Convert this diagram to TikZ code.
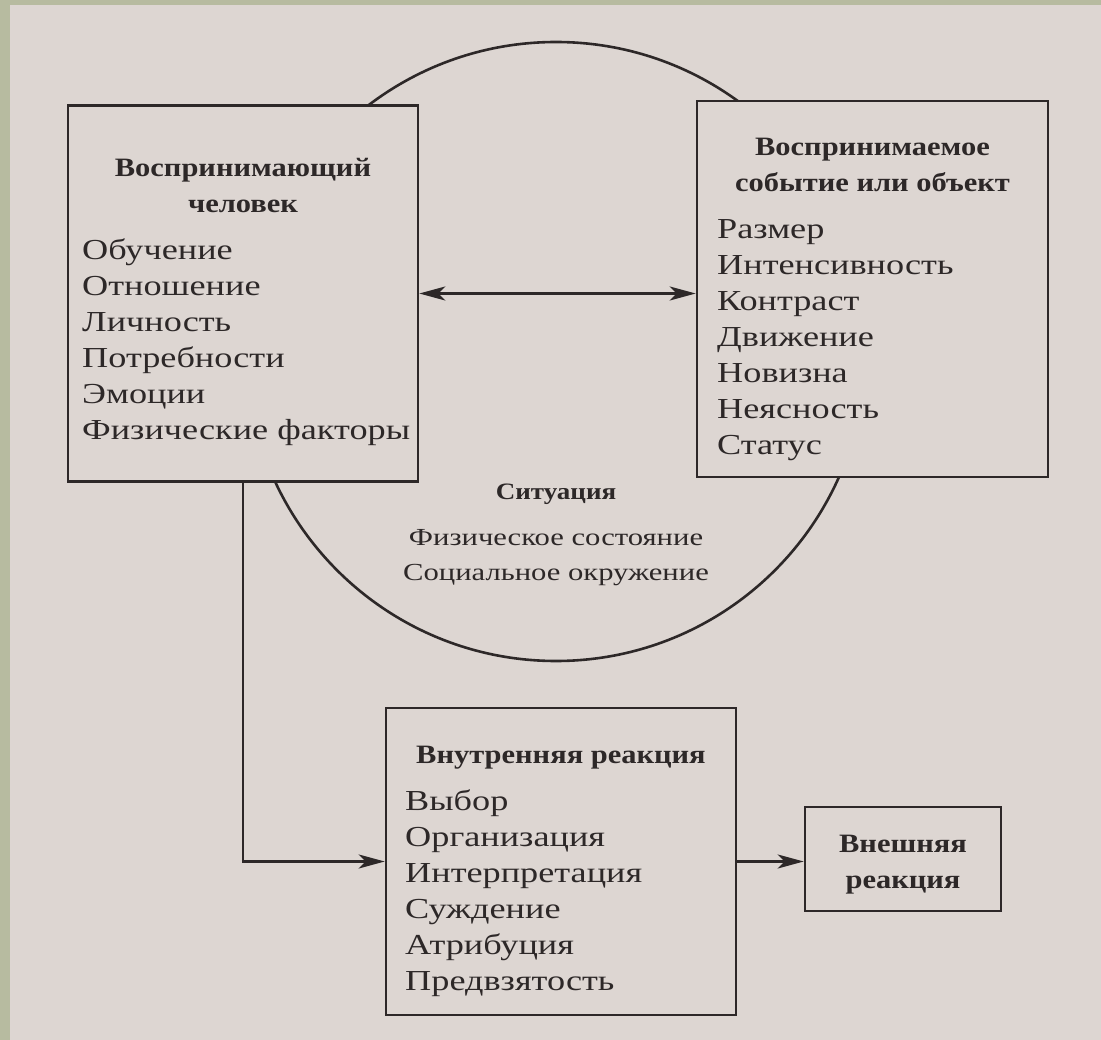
\documentclass[tikz,border=0pt]{standalone}
\usepackage{fontspec}
\setmainfont{Liberation Serif}[FakeStretch=1.15]
\newfontfamily\listfont{Liberation Serif}[FakeStretch=1.25]
\usepackage{xcolor}
\usetikzlibrary{arrows.meta,positioning,calc}

\definecolor{paper}{RGB}{221,214,210}
\definecolor{rim}{RGB}{183,187,160}
\definecolor{ink}{RGB}{45,40,40}

\begin{document}
\begin{tikzpicture}[
    x=1pt, y=-1pt,
    frame/.style={rectangle, draw=ink, fill=paper, line width=2.6pt, inner sep=0pt},
    head/.style={anchor=base, inner sep=0pt, text=ink, font=\fontsize{26.5}{36}\selectfont\bfseries},
    item/.style={anchor=base west, inner sep=0pt, text=ink, font=\listfont\fontsize{29}{36}\selectfont},
    dep/.style={-{Stealth[length=26pt, width=14pt, inset=7pt]}, draw=ink, line width=2.6pt},
    both/.style={{Stealth[length=26pt, width=14pt, inset=7pt]}-{Stealth[length=26pt, width=14pt, inset=7pt]}, draw=ink, line width=2.6pt}
]
    % Page
    \useasboundingbox (0,0) rectangle (1101,1040);
    \fill[rim] (0,0) rectangle (1101,1040);
    \fill[paper] (10,5) rectangle (1101,1040);

    % Situation circle (behind the boxes)
    \node[circle, draw=ink, line width=2.6pt, minimum size=619pt, inner sep=0pt] (situation) at (556,351.5) {};

    % Perceiver
    \node[frame, minimum width=350pt, minimum height=376pt] (person) at (243,293.5) {};
    \node[head] (personA) at (243,177) {Воспринимающий};
    \node[head] (personB) at (243,213) {человек};
    \node[item] (learn) at (82,260) {Обучение};
    \node[item] (attitude) at (82,296) {Отношение};
    \node[item] (persona) at (82,332) {Личность};
    \node[item] (needs) at (82,368) {Потребности};
    \node[item] (emotions) at (82,404) {Эмоции};
    \node[item] (physical) at (82,440) {Физические факторы};

    % Perceived event or object
    \node[frame, minimum width=351pt, minimum height=376pt] (object) at (872.5,289) {};
    \node[head] (objectA) at (872.5,156) {Воспринимаемое};
    \node[head] (objectB) at (872.5,192) {событие или объект};
    \node[item] (size) at (717,239) {Размер};
    \node[item] (intensity) at (717,275) {Интенсивность};
    \node[item] (contrast) at (717,311) {Контраст};
    \node[item] (motion) at (717,347) {Движение};
    \node[item] (novelty) at (717,383) {Новизна};
    \node[item] (vague) at (717,419) {Неясность};
    \node[item] (status) at (717,455) {Статус};

    % Situation
    \node[head, font=\fontsize{23.5}{36}\selectfont\bfseries] (sitA) at (556,500) {Ситуация};
    \node[item, anchor=base, font=\listfont\fontsize{24.5}{36}\selectfont] (sitB) at (556,545) {Физическое состояние};
    \node[item, anchor=base, font=\listfont\fontsize{24.5}{36}\selectfont] (sitC) at (556,580) {Социальное окружение};

    % Inner reaction
    \node[frame, minimum width=350pt, minimum height=307pt] (inner) at (561,861.5) {};
    \node[head] (innerA) at (561,763) {Внутренняя реакция};
    \node[item] (choice) at (405,810) {Выбор};
    \node[item] (organize) at (405,846) {Организация};
    \node[item] (interpret) at (405,882) {Интерпретация};
    \node[item] (judge) at (405,918) {Суждение};
    \node[item] (attrib) at (405,954) {Атрибуция};
    \node[item] (bias) at (405,990) {Предвзятость};

    % Outer reaction
    \node[frame, minimum width=196pt, minimum height=104pt] (outer) at (903,859) {};
    \node[head] (outerA) at (903,852) {Внешняя};
    \node[head] (outerB) at (903,888) {реакция};

    % Connections
    \draw[both] (person.east) -- (person.east -| object.west);
    \draw[dep] (person.south) |- (inner.west);
    \draw[dep] (inner.east) -- (inner.east -| outer.west);
\end{tikzpicture}
\end{document}
